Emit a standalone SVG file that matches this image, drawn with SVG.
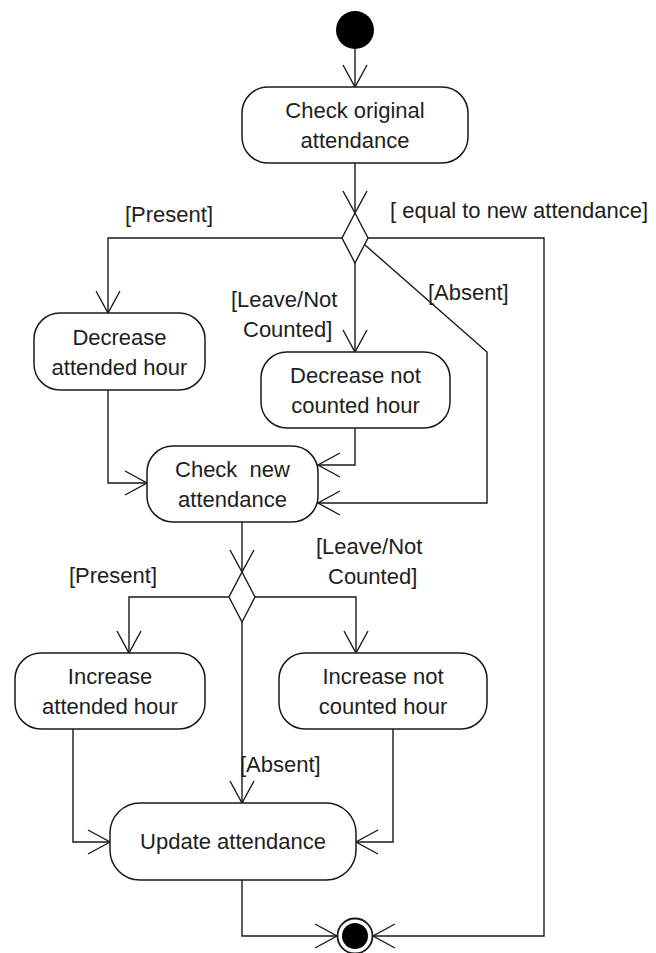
<svg xmlns="http://www.w3.org/2000/svg" width="656" height="953" viewBox="0 0 656 953">
  <style>
    .act { fill: #fff; stroke: #1a1a1a; stroke-width: 1.5; }
    .lbl { font-family: "Liberation Sans", Arial, sans-serif; font-size: 22px; fill: #1e1e1e; }
    .mid { text-anchor: middle; }
    .edge { fill: none; stroke: #1a1a1a; stroke-width: 1.4; marker-end: url(#open); }
    .dec { fill: #fff; stroke: #1a1a1a; stroke-width: 1.4; }
  </style>
  <defs>
    <marker id="open" markerUnits="userSpaceOnUse" markerWidth="28" markerHeight="30" viewBox="-2 -15 28 30" refX="22" refY="0" orient="auto">
      <path d="M0,-12 L22,0 L0,12" fill="none" stroke="#1a1a1a" stroke-width="1.4"/>
    </marker>
  </defs>

  <rect width="656" height="953" fill="#fff"/>

  <!-- connectors -->
  <g id="connectors">
    <path class="edge" d="M355,49 V87"/>
    <path class="edge" d="M355,163 V213"/>
    <!-- first decision branches -->
    <path class="edge" d="M342,238 H108 V313"/>
    <path class="edge" d="M355,263 V352"/>
    <path class="edge" d="M365,245 L487,352 V503 H318"/>
    <path class="edge" d="M368,238 H544 V936 H373"/>
    <!-- into check new attendance -->
    <path class="edge" d="M108,390 V483 H147"/>
    <path class="edge" d="M355,428 V465 H318"/>
    <path class="edge" d="M242,522 V572"/>
    <!-- second decision branches -->
    <path class="edge" d="M229,597 H129 V653"/>
    <path class="edge" d="M255,597 H356 V653"/>
    <path class="edge" d="M242,622 V803"/>
    <!-- into update attendance -->
    <path class="edge" d="M73,729 V842 H110"/>
    <path class="edge" d="M393,729 V842 H356"/>
    <path class="edge" d="M242,880 V936 H337"/>
  </g>

  <g id="start">
    <circle cx="355" cy="30" r="19" fill="#000"/>
  </g>

  <g id="check-original">
    <rect class="act" x="242" y="87" width="226" height="76" rx="26"/>
    <text class="lbl mid" x="355" y="118">Check original</text>
    <text class="lbl mid" x="355" y="148">attendance</text>
  </g>

  <g id="decision-1">
    <polygon class="dec" points="355,213 368,238 355,263 342,238"/>
  </g>

  <g id="decrease-attended">
    <rect class="act" x="34" y="313" width="171" height="77" rx="26"/>
    <text class="lbl mid" x="119.5" y="345">Decrease</text>
    <text class="lbl mid" x="119.5" y="375">attended hour</text>
  </g>

  <g id="decrease-not-counted">
    <rect class="act" x="261" y="352" width="189" height="76" rx="26"/>
    <text class="lbl mid" x="355.5" y="383">Decrease not</text>
    <text class="lbl mid" x="355.5" y="413">counted hour</text>
  </g>

  <g id="check-new">
    <rect class="act" x="147" y="446" width="171" height="76" rx="26"/>
    <text class="lbl mid" x="232.5" y="477" style="white-space:pre" xml:space="preserve">Check  new</text>
    <text class="lbl mid" x="232.5" y="507">attendance</text>
  </g>

  <g id="decision-2">
    <polygon class="dec" points="242,572 255,597 242,622 229,597"/>
  </g>

  <g id="increase-attended">
    <rect class="act" x="15" y="653" width="190" height="76" rx="26"/>
    <text class="lbl mid" x="110" y="684">Increase</text>
    <text class="lbl mid" x="110" y="714">attended hour</text>
  </g>

  <g id="increase-not-counted">
    <rect class="act" x="279" y="653" width="208" height="76" rx="26"/>
    <text class="lbl mid" x="383" y="684">Increase not</text>
    <text class="lbl mid" x="383" y="714">counted hour</text>
  </g>

  <g id="update-attendance">
    <rect class="act" x="110" y="803" width="246" height="77" rx="30"/>
    <text class="lbl mid" x="233" y="849">Update attendance</text>
  </g>

  <g id="final">
    <circle cx="355" cy="936" r="17.5" fill="#fff" stroke="#1a1a1a" stroke-width="1.8"/>
    <circle cx="355" cy="936" r="13" fill="#000"/>
  </g>

  <!-- guard labels -->
  <g id="guards">
    <text class="lbl" x="125" y="222">[Present]</text>
    <text class="lbl" x="390" y="218">[ equal to new attendance]</text>
    <text class="lbl" x="231" y="307">[Leave/Not</text>
    <text class="lbl" x="243" y="337">Counted]</text>
    <text class="lbl" x="428" y="300">[Absent]</text>
    <text class="lbl" x="69" y="583">[Present]</text>
    <text class="lbl" x="316" y="554">[Leave/Not</text>
    <text class="lbl" x="328" y="584">Counted]</text>
    <text class="lbl" x="240" y="772">[Absent]</text>
  </g>
</svg>
